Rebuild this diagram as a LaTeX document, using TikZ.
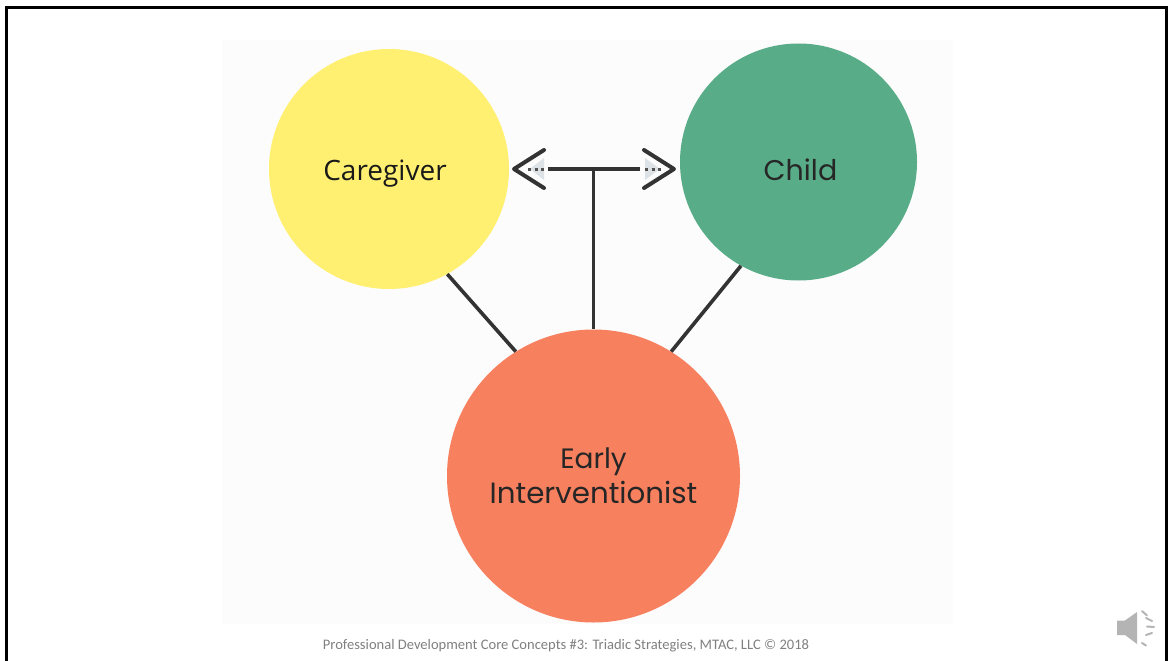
\documentclass[tikz,border=0pt]{standalone}
\usepackage{fontspec}
\setmainfont{Open Sans}
\newfontfamily\poppinsf{Poppins}
\newfontfamily\footf{Carlito}
\definecolor{cyel}{HTML}{FFF071}
\definecolor{cgrn}{HTML}{58AC87}
\definecolor{cora}{HTML}{F7805F}
\definecolor{ink}{HTML}{333333}
\definecolor{panel}{HTML}{FCFCFC}
\definecolor{tip}{HTML}{DDE2E6}
\definecolor{spk}{HTML}{B4B4B4}
\tikzset{
  blob/.style={circle,inner sep=0pt,align=center,text=black!85},
  link/.style={draw=ink,line width=3.6pt},
  chev/.style={draw=ink,line width=4pt,line cap=round,line join=round},
  dots/.style={draw=ink!85,line width=3pt,dash pattern=on 3pt off 3.5pt},
  wave/.style={draw=spk,line width=2pt,line cap=round}
}
\begin{document}
\begin{tikzpicture}[x=1pt,y=-1pt]
\useasboundingbox (0,0) rectangle (1170,661);
\fill[white] (0,0) rectangle (1170,661);
\fill[panel] (222,40) rectangle (953,624);
\draw[black,line width=2.6pt] (6.5,661) -- (6.5,7.5) -- (1166.5,7.5) -- (1166.5,661);

\node[blob,fill=cyel,minimum size=240pt] (care) at (389,169) {};
\node[blob,fill=cgrn,minimum size=237pt] (child) at (798.5,162) {};
\node[blob,fill=cora,minimum size=293pt] (ei) at (593.5,476) {};
\node[font=\fontsize{28}{32}\selectfont,text=black!90] (carelab) at (385,173.5) {Caregiver};
\node[font=\poppinsf\fontsize{28.5}{32}\selectfont,text=black!85] (childlab) at (800.5,170) {Child};
\node[font=\poppinsf\fontsize{28}{35}\selectfont,text=black!85,align=center] (eilab) at (593.5,476) {Early\\{\fontsize{29.3}{35}\selectfont Interventionist}};

\coordinate (la) at (514,169);
\coordinate (lu) at (544,150);
\coordinate (ld) at (544,188);
\coordinate (ra) at (674,169);
\coordinate (ru) at (644,150);
\coordinate (rd) at (644,188);
\coordinate (bl) at (548,169);
\coordinate (br) at (640,169);
\coordinate (tee) at (593.5,169);

\fill[tip] (530,169) -- (544,158) -- (544,180) -- cycle;
\fill[tip] (660,169) -- (645,158) -- (645,180) -- cycle;
\draw[dots] (528,169) -- (544,169);
\draw[dots] (645,169) -- (661,169);
\draw[chev] (lu) -- (la) -- (ld);
\draw[chev] (ru) -- (ra) -- (rd);
\draw[link] (bl) -- (br);
\draw[link] (tee) -- (ei.north);
\draw[link] (care.-61.3) -- (ei.122.4);
\draw[link] (child.-119) -- (ei.58.2);

\node[font=\footf\fontsize{14.55}{16}\selectfont,text=black!50] (foot) at (566,645.5) {Professional Development Core Concepts \#3: Triadic Strategies, MTAC, LLC © 2018};

\fill[spk] (1117,620.5) -- (1125,620.5) -- (1137,612) -- (1137,644) -- (1125,635) -- (1117,635) -- cycle;
\draw[wave] (1142,611) -- (1147,615.5);
\draw[wave] (1146,618) -- (1152,621);
\draw[wave] (1147,626.5) -- (1154,627);
\draw[wave] (1146,635) -- (1152,633);
\draw[wave] (1142,643) -- (1146,645.5);
\end{tikzpicture}
\end{document}
